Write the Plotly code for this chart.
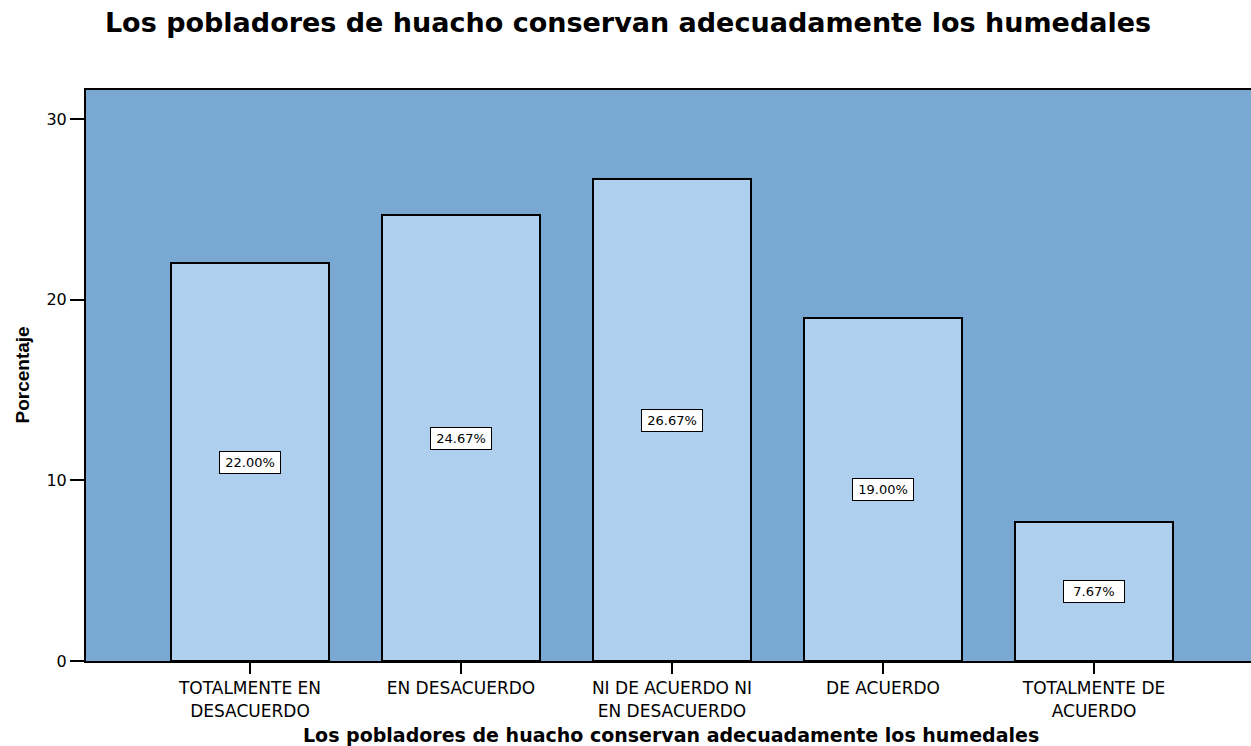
import plotly.graph_objects as go

categories = ["TOTALMENTE EN<br>DESACUERDO", "EN DESACUERDO", "NI DE ACUERDO NI<br>EN DESACUERDO",
              "DE ACUERDO", "TOTALMENTE DE<br>ACUERDO"]
values = [22.00, 24.67, 26.67, 19.00, 7.67]
labels = ["22.00%", "24.67%", "26.67%", "19.00%", "7.67%"]
y_ticks = [0, 10, 20, 30]

title_text = "Los pobladores de huacho conservan adecuadamente los humedales"

x_pos = list(range(len(categories)))

fig = go.Figure()
fig.add_trace(go.Bar(
    x=x_pos, y=values, width=0.75,
    marker=dict(color="#AED0EE", line=dict(color="black", width=2)),
    hoverinfo="skip",
))

for xi, v, lab in zip(x_pos, values, labels):
    fig.add_annotation(
        x=xi, y=v / 2, xref="x", yref="y", text=lab, showarrow=False,
        font=dict(family="DejaVu Sans", size=13, color="black"),
        bgcolor="white", bordercolor="black", borderwidth=1, borderpad=1,
        width=58, height=19,
    )

# axis titles
fig.add_annotation(
    x=0.502, y=-74 / 571, xref="paper", yref="paper", xanchor="center", yanchor="middle",
    text="<b>" + title_text + "</b>", showarrow=False,
    font=dict(family="DejaVu Sans", size=19, color="black"),
)
fig.add_annotation(
    x=-64 / 1165, y=0.5, xref="paper", yref="paper", xanchor="center", yanchor="middle",
    text="<b>Porcentaje</b>", showarrow=False, textangle=-90,
    font=dict(family="Liberation Sans", size=19, color="black"),
)

fig.update_layout(
    width=1251, height=746,
    margin=dict(l=86, r=0, t=90, b=85, autoexpand=False),
    paper_bgcolor="white", plot_bgcolor="#79A9D3",
    showlegend=False,
    bargap=0,
    title=dict(text="<b>" + title_text + "</b>", x=0.502, xanchor="center",
               y=1 - 23 / 746, yref="container", yanchor="middle", automargin=False,
               font=dict(family="DejaVu Sans", size=27, color="black")),
    font=dict(family="DejaVu Sans", color="black"),
)

fig.update_xaxes(
    range=[-0.777, 4.744], tickmode="array", tickvals=x_pos, ticktext=categories,
    ticks="outside", ticklen=11, tickwidth=2, tickcolor="black",
    tickfont=dict(family="DejaVu Sans", size=17, color="black"),
    showline=True, linecolor="black", linewidth=2, mirror=True,
    showgrid=False, zeroline=False, automargin=False,
)
fig.update_yaxes(
    range=[0, 31.6], tickmode="array", tickvals=y_ticks,
    ticks="outside", ticklen=14, tickwidth=2, tickcolor="black",
    tickfont=dict(family="DejaVu Sans", size=16, color="black"),
    showline=True, linecolor="black", linewidth=2,
    showgrid=False, zeroline=False, automargin=False,
)

fig.write_html("out.html", config={"displayModeBar": False},
               post_script="document.body.style.margin='0';document.body.style.overflow='hidden';")
